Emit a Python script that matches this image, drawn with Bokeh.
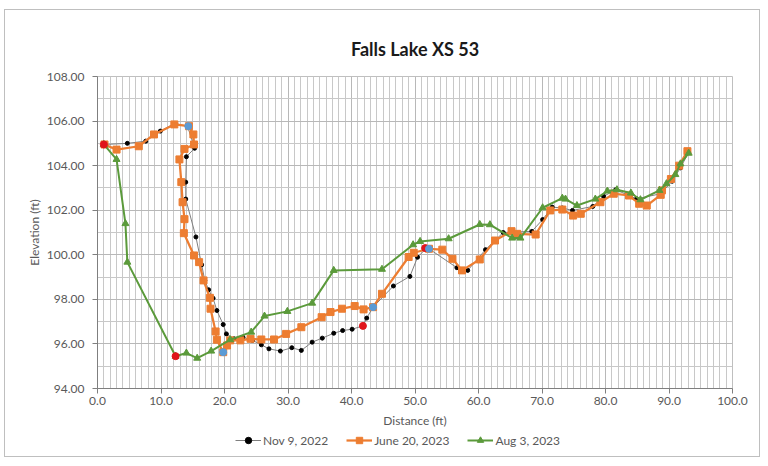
from bokeh.plotting import figure
from bokeh.layouts import column
from bokeh.models import Legend, LegendItem, FixedTicker, NumeralTickFormatter
from bokeh.embed import file_html
from bokeh.resources import INLINE

title = "Falls Lake XS 53"
x_label = "Distance (ft)"
y_label = "Elevation (ft)"
series_names = ["Nov 9, 2022", "June 20, 2023", "Aug 3, 2023"]

nov_x = [1.1, 4.7, 7.6, 9.9, 12.2, 14.2, 15.3, 14.0, 13.9, 13.9,
         15.5, 16.4, 16.9, 17.5, 18.2, 18.8, 19.8, 20.3, 21.5, 22.9,
         24.4, 25.8, 27.0, 28.8, 30.6, 32.1, 33.8, 35.4, 37.2, 38.6,
         40.1, 41.8, 42.4, 43.4, 46.6, 49.2, 50.4, 51.7, 52.2, 56.6,
         58.3, 61.1, 63.9, 68.4, 70.1, 71.6, 73.2, 74.8, 78.0, 79.7,
         81.6, 84.9, 88.7, 90.5, 91.8, 93.1]
nov_y = [104.95, 105.0, 105.1, 105.55, 105.9, 105.75, 104.78, 104.4, 103.26, 102.5,
         100.8, 99.55, 98.85, 98.43, 98.05, 97.5, 96.87, 96.45, 96.23, 96.3,
         96.16, 95.96, 95.78, 95.68, 95.83, 95.71, 96.08, 96.26, 96.48, 96.6,
         96.66, 96.81, 97.16, 97.65, 98.6, 99.03, 99.89, 100.27, 100.27, 99.42,
         99.3, 100.23, 101.0, 101.05, 101.58, 102.14, 102.1, 101.99, 102.17, 102.62,
         102.92, 102.51, 102.74, 103.3, 103.9, 104.6]

june_x = [1.1, 3.0, 6.5, 8.9, 12.1, 14.4, 15.1, 15.2, 13.7, 12.9,
          13.2, 13.4, 13.7, 13.6, 15.2, 16.0, 16.7, 17.7, 17.8, 18.6,
          18.8, 19.8, 20.4, 20.9, 22.5, 24.1, 25.8, 27.8, 29.7, 32.1,
          35.3, 36.7, 38.5, 40.5, 41.9, 43.4, 44.8, 49.0, 49.8, 52.2,
          54.3, 55.9, 57.4, 60.2, 62.6, 65.2, 66.1, 69.0, 71.3, 73.2,
          74.9, 76.1, 79.2, 81.3, 83.7, 85.3, 86.5, 88.7, 88.9, 90.3,
          91.6, 92.9]
june_y = [104.95, 104.72, 104.87, 105.4, 105.85, 105.77, 105.4, 104.95, 104.75, 104.28,
          103.26, 102.36, 101.6, 100.97, 99.97, 99.67, 98.85, 98.07, 97.58, 96.56,
          96.19, 95.63, 95.93, 96.16, 96.16, 96.23, 96.2, 96.2, 96.45, 96.75,
          97.2, 97.43, 97.58, 97.7, 97.55, 97.65, 98.25, 99.9, 100.09, 100.27,
          100.23, 99.82, 99.3, 99.79, 100.64, 101.06, 100.94, 100.91, 101.99, 102.03,
          101.76, 101.84, 102.36, 102.74, 102.66, 102.29, 102.21, 102.69, 102.89, 103.4,
          104.0, 104.65]

aug_x = [1.0, 3.0, 4.4, 4.7, 12.3, 14.0, 15.7, 17.9, 20.9, 24.2,
         26.3, 29.9, 33.8, 37.2, 44.8, 49.7, 50.8, 55.3, 60.2, 61.8,
         65.3, 66.6, 70.1, 73.2, 73.7, 75.5, 78.4, 80.3, 81.8, 84.0,
         85.5, 88.5, 89.6, 91.0, 91.8, 93.1]
aug_y = [104.95, 104.28, 101.4, 99.67, 95.45, 95.59, 95.36, 95.68, 96.19, 96.53,
         97.25, 97.46, 97.83, 99.3, 99.35, 100.45, 100.6, 100.72, 101.36, 101.35,
         100.75, 100.75, 102.11, 102.54, 102.5, 102.21, 102.5, 102.86, 102.92, 102.77,
         102.47, 102.89, 103.19, 103.6, 104.08, 104.56]

red_x = [1.0, 12.3, 41.8, 51.6]
red_y = [104.95, 95.45, 96.81, 100.3]
blue_x = [14.3, 19.8, 43.4, 52.2]
blue_y = [105.77, 95.63, 97.65, 100.27]

x_ticks = [0, 10, 20, 30, 40, 50, 60, 70, 80, 90, 100]
y_ticks = [94, 96, 98, 100, 102, 104, 106, 108]

FONT = "Lato"
TXT = "#595959"
NOV_C, JUNE_C, AUG_C = "#7f7f7f", "#ED7D31", "#5B9A3B"

p = figure(width=754, height=420, output_backend="svg", toolbar_location=None,
           x_range=(0, 100), y_range=(94, 108), title=title,
           min_border_left=92, min_border_right=27, min_border_top=66,
           min_border_bottom=42)
p.background_fill_color = "white"
p.border_fill_color = "white"
p.outline_line_color = "#bfbfbf"

p.title.align = "center"
p.title.text_font = FONT
p.title.text_font_size = "18px"
p.title.text_font_style = "bold"
p.title.text_color = "#1a1a1a"
p.title.standoff = 34

for ax in (p.xaxis[0], p.yaxis[0]):
    ax.axis_line_color = "#7f7f7f"
    ax.major_tick_line_color = "#7f7f7f"
    ax.major_tick_in = 0
    ax.major_tick_out = 5
    ax.minor_tick_line_color = None
    ax.major_label_text_font = FONT
    ax.major_label_text_font_size = "12px"
    ax.major_label_text_color = TXT
    ax.axis_label_text_font = FONT
    ax.axis_label_text_font_size = "12px"
    ax.axis_label_text_font_style = "normal"
    ax.axis_label_text_color = TXT

p.xaxis.ticker = FixedTicker(ticks=x_ticks, minor_ticks=list(range(0, 101)))
p.yaxis.ticker = FixedTicker(ticks=y_ticks, minor_ticks=list(range(94, 109)))
p.xaxis.formatter = NumeralTickFormatter(format="0.0")
p.yaxis.formatter = NumeralTickFormatter(format="0.00")
p.xaxis.axis_label = x_label
p.yaxis.axis_label = y_label
p.xaxis.major_label_standoff = 3
p.yaxis.major_label_standoff = 8
p.xaxis.axis_label_standoff = 5
p.yaxis.axis_label_standoff = 2

p.xgrid.grid_line_color = "#b8b8b8"
p.ygrid.grid_line_color = "#b8b8b8"
p.xgrid.minor_grid_line_color = "#c8c8c8"
p.ygrid.minor_grid_line_color = "#c8c8c8"

p.line(nov_x, nov_y, line_color=NOV_C, line_width=1)
p.scatter(nov_x, nov_y, marker="circle", size=4, fill_color="black", line_color="black")
p.line(june_x, june_y, line_color=JUNE_C, line_width=2.25)
p.scatter(june_x, june_y, marker="square", size=7, fill_color=JUNE_C, line_color=JUNE_C)
p.line(aug_x, aug_y, line_color=AUG_C, line_width=2)
p.scatter(aug_x, aug_y, marker="triangle", size=7, fill_color=AUG_C, line_color=AUG_C)
p.scatter(red_x, red_y, marker="circle", size=7, fill_color="#E0151B", line_color="#E0151B")
p.scatter(blue_x, blue_y, marker="circle", size=7, fill_color="#5B9BD5", line_color="#5B9BD5")

# legend strip below the chart; its proxy renderers hold a single NaN (draw nothing)
lf = figure(width=754, height=26, output_backend="svg", toolbar_location=None,
            x_range=(0, 1), y_range=(0, 1), x_axis_type=None, y_axis_type=None,
            min_border=0)
lf.outline_line_color = None
lf.background_fill_color = "white"
lf.border_fill_color = "white"
e = [float("nan")]
g1 = lf.line(e, e, line_color=NOV_C, line_width=1)
m1 = lf.scatter(e, e, marker="circle", size=4, fill_color="black", line_color="black")
g2 = lf.line(e, e, line_color=JUNE_C, line_width=2.25)
m2 = lf.scatter(e, e, marker="square", size=7, fill_color=JUNE_C, line_color=JUNE_C)
g3 = lf.line(e, e, line_color=AUG_C, line_width=2)
m3 = lf.scatter(e, e, marker="triangle", size=7, fill_color=AUG_C, line_color=AUG_C)

legend = Legend(items=[LegendItem(label=series_names[0], renderers=[g1, m1]),
                       LegendItem(label=series_names[1], renderers=[g2, m2]),
                       LegendItem(label=series_names[2], renderers=[g3, m3])],
                orientation="horizontal", location=(138, 8),
                background_fill_alpha=0, border_line_color=None,
                label_text_font=FONT, label_text_font_size="12px",
                label_text_color=TXT, glyph_width=26, glyph_height=16,
                label_height=16, spacing=18,
                label_standoff=2, padding=1, margin=0)
lf.add_layout(legend, "center")

layout = column(p, lf, spacing=0,
                styles={"border": "1px solid #bfbfbf", "margin": "9px 0 0 4px",
                        "background-color": "white"})

open("out.html", "w").write(file_html(layout, INLINE))
